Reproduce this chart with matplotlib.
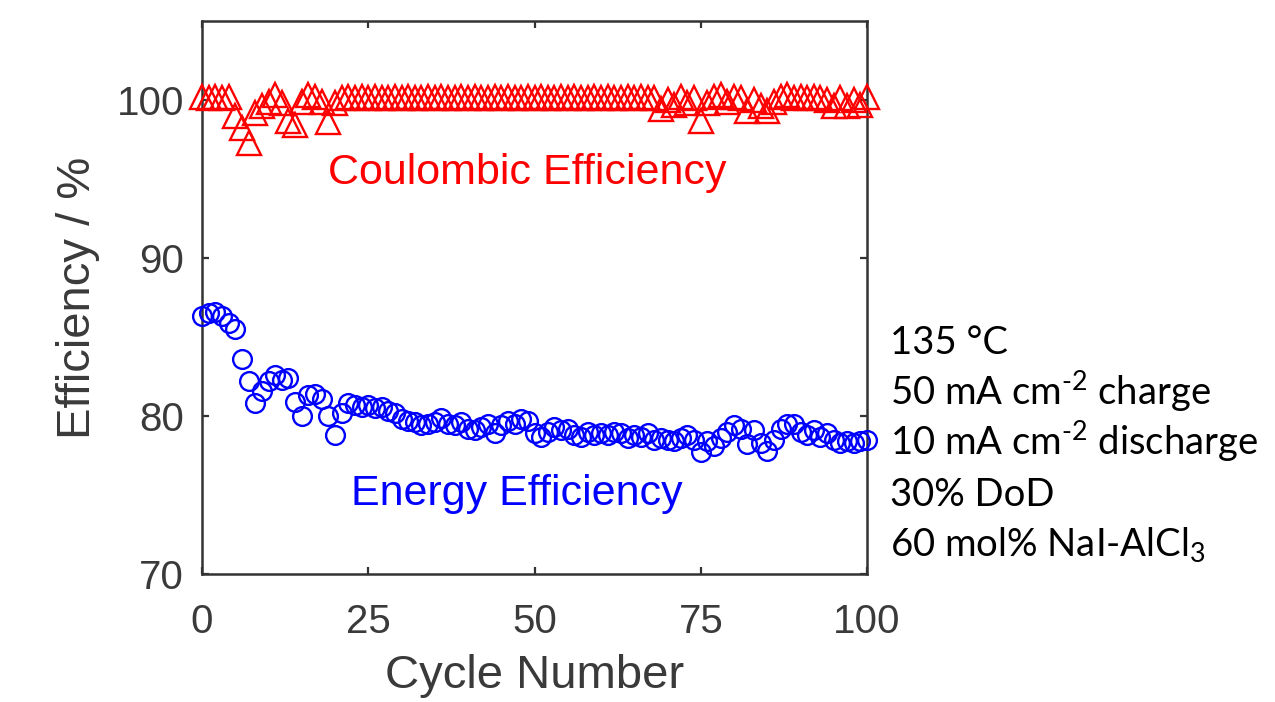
import matplotlib
matplotlib.use("Agg")
import matplotlib.pyplot as plt
import numpy as np

cycles = list(range(0, 101))

coulombic = [100.2, 100.1, 100.2, 100.1, 100.2, 99.0, 98.2, 97.3, 99.2, 99.6,
             99.9, 100.3, 99.8, 98.7, 98.4, 99.9, 100.3, 100.2, 99.9, 98.6,
             99.8, 100.1, 100.2, 100.1, 100.2, 100.1, 100.2, 100.1, 100.1, 100.2,
             100.1, 100.2, 100.1, 100.1, 100.2, 100.1, 100.2, 100.1, 100.1, 100.2,
             100.1, 100.2, 100.1, 100.1, 100.2, 100.1, 100.2, 100.1, 100.1, 100.2,
             100.1, 100.2, 100.1, 100.1, 100.2, 100.1, 100.2, 100.1, 100.1, 100.2,
             100.1, 100.2, 100.1, 100.1, 100.2, 100.1, 100.2, 100.1, 100.1, 99.4,
             100.0, 99.7, 100.2, 99.8, 100.1, 98.7, 99.8, 100.2, 100.3, 99.9,
             100.2, 100.1, 99.3, 100.0, 99.6, 99.3, 99.9, 100.2, 100.3, 100.1,
             100.2, 100.1, 100.2, 100.1, 100.0, 99.6, 100.1, 99.6, 100.0, 99.7,
             100.2]

energy = [86.3, 86.5, 86.6, 86.3, 85.9, 85.5, 83.6, 82.2, 80.8, 81.6,
          82.2, 82.6, 82.3, 82.4, 80.9, 80.0, 81.3, 81.4, 81.1, 80.0,
          78.8, 80.2, 80.8, 80.7, 80.6, 80.7, 80.5, 80.6, 80.3, 80.2,
          79.8, 79.7, 79.6, 79.4, 79.5, 79.6, 79.9, 79.5, 79.4, 79.6,
          79.2, 79.1, 79.3, 79.5, 78.9, 79.4, 79.7, 79.5, 79.8, 79.7,
          78.9, 78.7, 79.0, 79.3, 79.1, 79.2, 78.8, 78.7, 79.0, 78.8,
          78.9, 78.8, 79.0, 78.9, 78.6, 78.8, 78.7, 78.9, 78.5, 78.6,
          78.5, 78.4, 78.6, 78.8, 78.5, 77.7, 78.4, 78.1, 78.6, 79.0,
          79.4, 79.2, 78.2, 79.1, 78.3, 77.8, 78.5, 79.2, 79.5, 79.5,
          79.0, 78.8, 79.1, 78.7, 78.9, 78.5, 78.3, 78.4, 78.3, 78.4,
          78.5]

x_ticks = [0, 25, 50, 75, 100]
y_ticks = [70, 80, 90, 100]

conditions = ["135 °C",
              "50 mA cm$^{\u2010 2}$ charge",
              "10 mA cm$^{\u2010 2}$ discharge",
              "30% DoD",
              r"60 mol% NaI-AlCl$_3$"]

plt.rcParams['font.family'] = ['Liberation Sans', 'DejaVu Sans']
plt.rcParams['mathtext.fontset'] = 'custom'
plt.rcParams['mathtext.rm'] = 'Lato'
plt.rcParams['mathtext.it'] = 'Lato'
plt.rcParams['mathtext.default'] = 'regular'

axis_col = '#333333'
text_col = '#3a3a3a'

fig = plt.figure(figsize=(12.75, 7.02), dpi=100)
ax = fig.add_axes([202/1275, 1-574/702, (867-202)/1275, (574-21)/702])

ax.plot(cycles, coulombic, linestyle='none', marker='^', markersize=17,
        markerfacecolor='none', markeredgecolor='#ff0000', markeredgewidth=1.7,
        clip_on=False, zorder=3)
ax.plot(cycles, energy, linestyle='none', marker='o', markersize=13.5,
        markerfacecolor='none', markeredgecolor='#0000ff', markeredgewidth=1.7,
        clip_on=False, zorder=3)

ax.set_xlim(0, 100)
ax.set_ylim(70, 105)
ax.set_xticks(x_ticks)
ax.set_yticks(y_ticks)
ax.tick_params(direction='in', length=5, width=1.6, color=axis_col,
               labelsize=29, labelcolor=text_col, top=True, right=True)
ax.tick_params(axis='x', pad=21)
ax.tick_params(axis='y', pad=13)
for s in ax.spines.values():
    s.set_linewidth(1.8)
    s.set_color(axis_col)

ax.set_xlabel("Cycle Number", fontsize=34, color=text_col, labelpad=9)
ax.set_ylabel("Efficiency / %", fontsize=34, color=text_col, labelpad=12)

fig.text(527/1275, 1-184/702, "Coulombic Efficiency", color='#ff0000',
         fontsize=31, ha='center', va='baseline')
fig.text(517/1275, 1-505/702, "Energy Efficiency", color='#0000ff',
         fontsize=31, ha='center', va='baseline')

for i, line in enumerate(conditions):
    fig.text(890/1275, 1-(354 + 50.5*i)/702, line, fontsize=27.5,
             family=['Lato', 'DejaVu Sans'], color='black',
             ha='left', va='baseline')

fig.savefig("out.png", dpi=100)
